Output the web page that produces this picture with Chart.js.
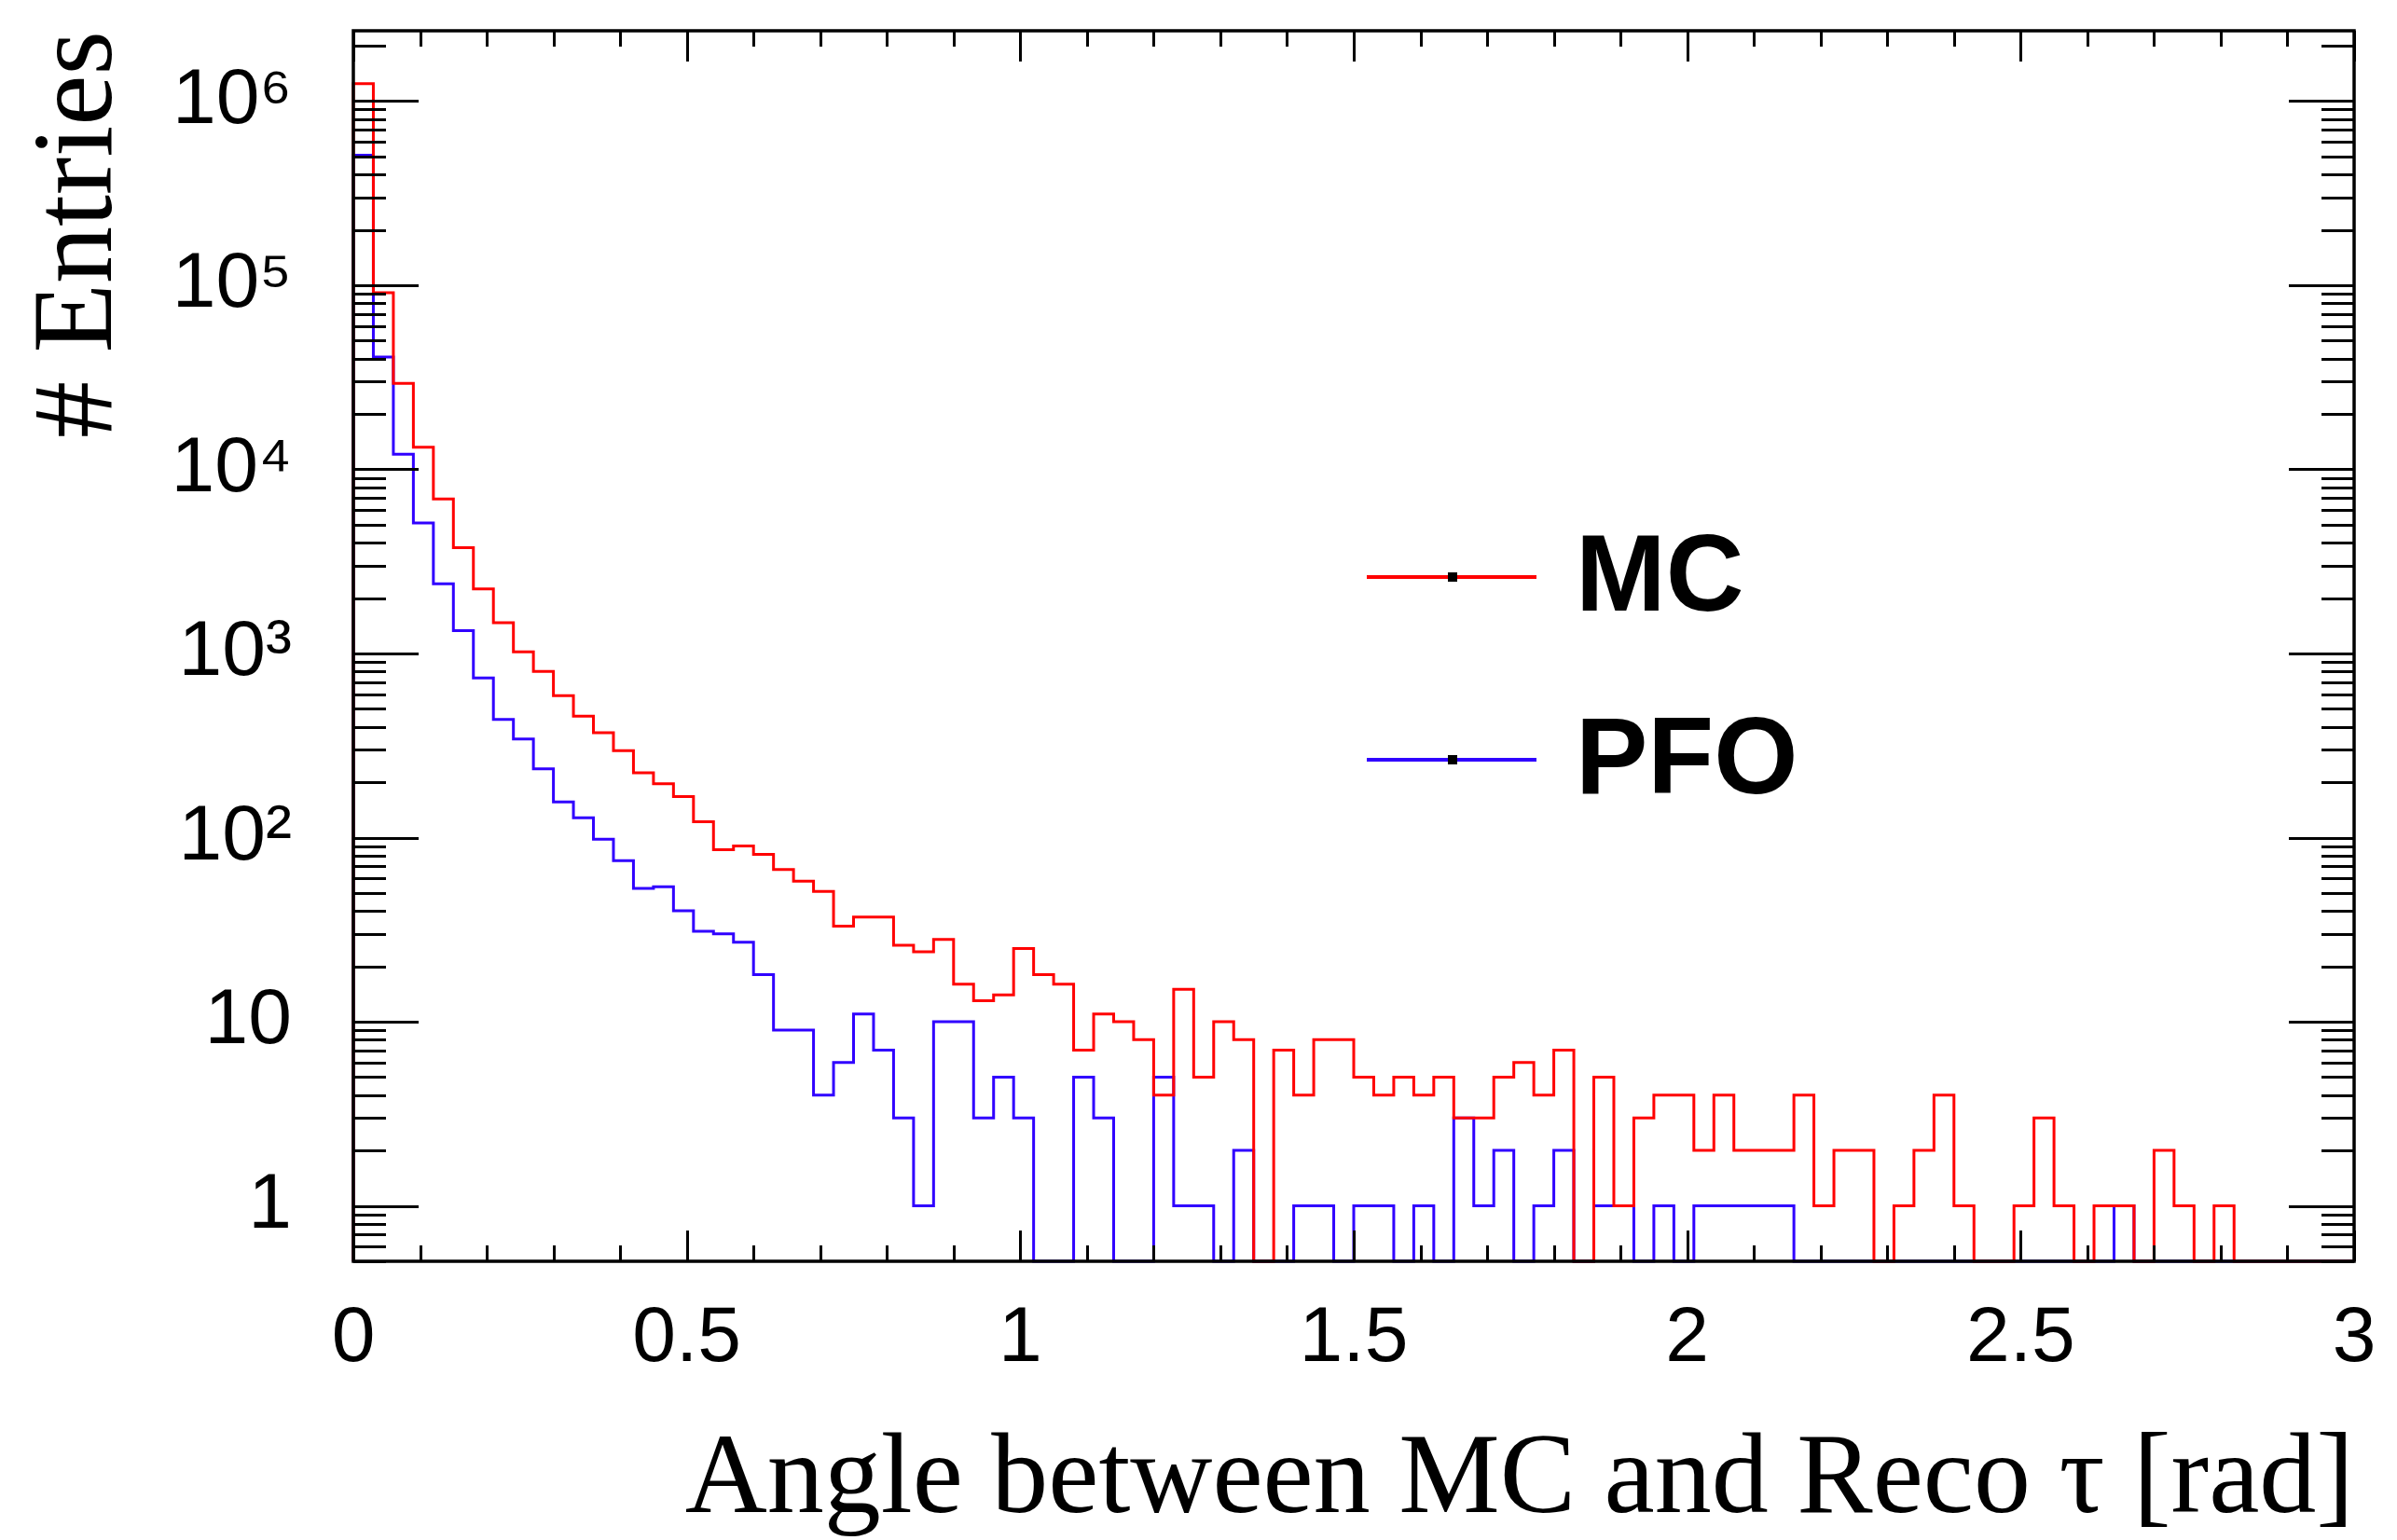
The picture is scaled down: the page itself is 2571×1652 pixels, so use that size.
<!DOCTYPE html>
<html>
<head>
<meta charset="utf-8">
<script src="https://cdn.jsdelivr.net/npm/chart.js@4/dist/chart.umd.min.js"></script>
<style>
  html, body { margin: 0; padding: 0; background: #fff; }
  canvas { display: block; }
</style>
</head>
<body>
<canvas id="c" width="2571" height="1652"></canvas>
<script>
// histogram binning: 100 bins of 0.03 rad between 0 and 3
const xMin = 0, xMax = 3, nBins = 100;
const binWidth = (xMax - xMin) / nBins;
const yMin = 0.5, yMax = 2.41e6;

// bin contents (bin 0 .. bin 99)
const mcCounts = [
  1245000, 91000, 29300, 13200, 6900, 3750, 2240, 1470, 1020, 800,
  590, 457, 371, 297, 225, 196, 167, 122, 86, 90,
  81, 67, 58, 51, 33, 37, 37, 26, 24, 28,
  16, 13, 14, 25, 18, 16, 7, 11, 10, 8,
  4, 15, 5, 10, 8, 0, 7, 4, 8, 8,
  5, 4, 5, 4, 5, 3, 3, 5, 6, 4,
  7, 0, 5, 1, 3, 4, 4, 2, 4, 2,
  2, 2, 4, 1, 2, 2, 0, 1, 2, 4,
  1, 0, 0, 1, 3, 1, 0, 1, 1, 0,
  2, 1, 0, 1, 0, 0, 0, 0, 0, 0
];
const pfoCounts = [
  508000, 40700, 12100, 5120, 2390, 1330, 736, 438, 343, 236,
  156, 128, 98, 75, 53, 54, 40, 31, 30, 27,
  18, 9, 9, 4, 6, 11, 7, 3, 1, 10,
  10, 3, 5, 3, 0, 0, 5, 3, 0, 0,
  5, 1, 1, 0, 2, 0, 0, 1, 1, 0,
  1, 1, 0, 1, 0, 3, 1, 2, 0, 1,
  2, 0, 1, 1, 0, 1, 0, 1, 1, 1,
  1, 1, 0, 0, 0, 0, 0, 0, 0, 0,
  0, 0, 0, 0, 0, 0, 0, 0, 1, 0,
  0, 0, 0, 0, 0, 0, 0, 0, 0, 0
];

const seriesNames = ["MC", "PFO"];
const seriesColors = ["#ff0000", "#3000ff"];

const xTickValues = [0, 0.5, 1, 1.5, 2, 2.5, 3];
const xTickLabels = ["0", "0.5", "1", "1.5", "2", "2.5", "3"];
const yTickValues = [1, 10, 100, 1e3, 1e4, 1e5, 1e6];
const yTickLabels = ["1", "10", "10\u00B2", "10\u00B3", "10\u2074", "10\u2075", "10\u2076"];

// outline of a ROOT-like histogram: up at x=0, one step per bin, down at x=3
let histPoints = (counts) => {
  let pts = [{ x: xMin, y: yMin }];
  counts.forEach((v, i) => {
    pts.push({ x: xMin + i * binWidth, y: Math.max(v, yMin) });
  });
  pts.push({ x: xMax, y: yMin });
  return pts;
};

// frame + inside ticks on all four sides
let frameTicks = {
  id: "frameTicks",
  afterDatasetsDraw(chart) {
    const ctx = chart.ctx;
    const a = chart.chartArea;
    const xs = chart.scales.x, ys = chart.scales.y;
    ctx.save();
    ctx.strokeStyle = "#000";
    ctx.lineWidth = 3;
    ctx.beginPath();
    // y ticks (log, 1..9 per decade)
    for (let d = -1; d <= 6; d++) {
      for (let m = 1; m <= 9; m++) {
        const v = m * Math.pow(10, d);
        if (v < yMin || v > yMax) continue;
        const py = Math.round(ys.getPixelForValue(v)) + 0.5;
        const len = m === 1 ? 70 : 35;
        ctx.moveTo(a.left, py); ctx.lineTo(a.left + len, py);
        ctx.moveTo(a.right, py); ctx.lineTo(a.right - len, py);
      }
    }
    // x ticks every 0.1
    for (let k = 0; k <= 30; k++) {
      const v = k / 10;
      const px = Math.round(xs.getPixelForValue(v)) + 0.5;
      const len = k % 5 === 0 ? 33 : 17;
      ctx.moveTo(px, a.bottom); ctx.lineTo(px, a.bottom - len);
      ctx.moveTo(px, a.top); ctx.lineTo(px, a.top + len);
    }
    ctx.stroke();
    ctx.lineWidth = 3.5;
    ctx.strokeRect(a.left, a.top, a.right - a.left, a.bottom - a.top);
    ctx.restore();
  },
};

// legend drawn inside the pad like TLegend
let padLegend = {
  id: "padLegend",
  afterDraw(chart) {
    const ctx = chart.ctx;
    const rows = [619, 815];
    ctx.save();
    chart.data.datasets.forEach((ds, i) => {
      const y = rows[i];
      ctx.strokeStyle = ds.borderColor;
      ctx.lineWidth = 4;
      ctx.beginPath();
      ctx.moveTo(1466, y); ctx.lineTo(1648, y);
      ctx.stroke();
      ctx.fillStyle = "#000";
      ctx.fillRect(1553, y - 5, 10, 10);
      ctx.font = "bold 116px 'Liberation Sans', Arial, sans-serif";
      ctx.textBaseline = "middle";
      ctx.textAlign = "left";
      ctx.fillText(ds.label, 1690, y + 4);
    });
    ctx.restore();
  },
};

const ctx = document.getElementById("c").getContext("2d");

let histChart = new Chart(ctx, {
  type: "line",
  data: {
    datasets: seriesNames.map((name, i) => ({
      label: name,
      data: histPoints(i === 0 ? mcCounts : pfoCounts),
      borderColor: seriesColors[i],
      backgroundColor: seriesColors[i],
      borderWidth: 3,
      stepped: "before",
      pointRadius: 0,
      fill: false,
      tension: 0,
      clip: 3,
    })),
  },
  options: {
    responsive: false,
    animation: false,
    devicePixelRatio: 1,
    layout: { padding: { top: 33, right: 46, left: 0, bottom: 0 } },
    plugins: {
      legend: { display: false },
      tooltip: { enabled: false },
    },
    scales: {
      x: {
        type: "linear",
        min: xMin,
        max: xMax,
        afterBuildTicks: (s) => {
          s.ticks = xTickValues.map((v) => ({ value: v }));
        },
        afterFit: (s) => {
          s.height = 299;
          s.paddingLeft = 0;
          s.paddingRight = 0;
        },
        ticks: {
          callback: (v) => xTickLabels[xTickValues.indexOf(v)],
          font: { family: "'Liberation Sans', Arial, sans-serif", size: 84, lineHeight: 1 },
          color: "#000",
          padding: 42,
          maxRotation: 0,
          autoSkip: false,
        },
        grid: { display: false, drawTicks: false },
        border: { display: false },
        title: {
          display: true,
          text: "Angle between MC and Reco \u03C4 [rad]",
          align: "end",
          color: "#000",
          font: { family: "'Liberation Serif', 'Times New Roman', serif", size: 122, lineHeight: 1 },
          padding: { top: 0, bottom: 1 },
        },
      },
      y: {
        type: "logarithmic",
        min: yMin,
        max: yMax,
        afterBuildTicks: (s) => {
          s.ticks = yTickValues.map((v) => ({ value: v }));
        },
        afterFit: (s) => {
          s.width = 379;
          s.paddingTop = 0;
          s.paddingBottom = 0;
        },
        ticks: {
          callback: (v) => yTickLabels[yTickValues.indexOf(v)],
          font: { family: "'Liberation Sans', Arial, sans-serif", size: 84, lineHeight: 1 },
          color: "#000",
          padding: 66,
          autoSkip: false,
        },
        grid: { display: false, drawTicks: false },
        border: { display: false },
        title: {
          display: true,
          text: "# Entries",
          align: "end",
          color: "#000",
          font: { family: "'Liberation Serif', 'Times New Roman', serif", size: 122, lineHeight: 1 },
          padding: { top: 26, bottom: 0 },
        },
      },
    },
  },
  plugins: [frameTicks, padLegend],
});
</script>
</body>
</html>
